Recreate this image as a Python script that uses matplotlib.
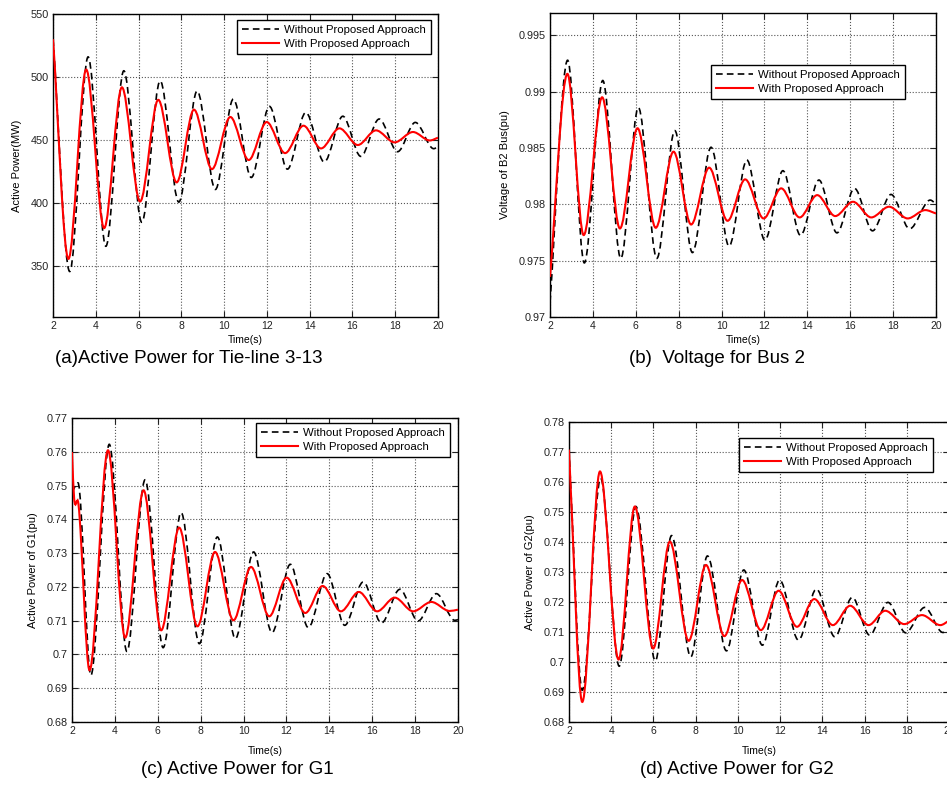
import matplotlib
matplotlib.use("Agg")
import matplotlib.pyplot as plt
from matplotlib.path import Path
from matplotlib.patches import PathPatch
from matplotlib.lines import Line2D
from matplotlib import font_manager

# ---------------- data (extrema) ----------------
# (a) Active power tie-line 3-13 (MW)
a_t_wo = [2.0, 2.78, 3.64, 4.47, 5.31, 6.15, 7.01, 7.88, 8.74, 9.59, 10.43, 11.27, 12.12, 12.96,
          13.82, 14.68, 15.55, 16.39, 17.25, 18.11, 18.94, 19.80, 20.0]
a_v_wo = [530, 346, 516, 366, 505, 385, 497, 401, 489, 411, 482.6, 420.5, 476.8, 427.1,
          472, 432.7, 469, 437.2, 466.8, 440.9, 464.1, 443.3, 445]
a_t_w = [2.0, 2.72, 3.55, 4.39, 5.22, 6.07, 6.92, 7.78, 8.59, 9.43, 10.29, 11.15, 11.99, 12.85,
         13.71, 14.53, 15.39, 16.25, 17.10, 17.97, 18.83, 19.62, 20.0]
a_v_w = [530, 356, 506, 380.4, 491.9, 401.5, 482, 416.6, 474.2, 427.1, 468.4, 434.3, 464.4, 439.8,
         461.5, 443.5, 459.4, 446.2, 457.8, 448.3, 456.5, 449.8, 452]

# (b) Voltage of bus B2 (pu)
b_t_wo = [2.0, 2.82, 3.60, 4.46, 5.30, 6.12, 6.98, 7.82, 8.64, 9.51, 10.35, 11.18, 12.02, 12.86,
          13.68, 14.54, 15.38, 16.20, 17.04, 17.90, 18.77, 19.73, 20.0]
b_v_wo = [0.9713, 0.9928, 0.9748, 0.9910, 0.9752, 0.9886, 0.9752, 0.98655, 0.97572, 0.98507,
          0.97629, 0.98394, 0.97682, 0.98299, 0.97724, 0.98216, 0.97747, 0.98142, 0.97765,
          0.98088, 0.97783, 0.98038, 0.98002]
b_t_w = [2.0, 2.81, 3.57, 4.43, 5.26, 6.08, 6.93, 7.76, 8.58, 9.42, 10.28, 11.10, 11.96, 12.78,
         13.64, 14.46, 15.30, 16.13, 16.98, 17.81, 18.68, 19.50, 20.0]
b_v_w = [0.97356, 0.99159, 0.97727, 0.98951, 0.97786, 0.98676, 0.97792, 0.98468, 0.97821,
         0.98326, 0.97854, 0.98222, 0.97875, 0.98142, 0.97884, 0.98082, 0.97896, 0.98023,
         0.97884, 0.97979, 0.97875, 0.97949, 0.97919]

# (c) Active power of G1 (pu)
c_t_wo = [2.0, 2.28, 2.88, 3.74, 4.56, 5.41, 6.25, 7.09, 7.94, 8.78, 9.62, 10.47, 11.33, 12.18,
          13.02, 13.90, 14.72, 15.58, 16.43, 17.29, 18.14, 18.99, 19.85, 20.0]
c_v_wo = [0.7480, 0.7508, 0.6938, 0.7622, 0.7009, 0.7517, 0.7020, 0.74197, 0.70319, 0.73477,
          0.70467, 0.73033, 0.70645, 0.72668, 0.70793, 0.72391, 0.70862, 0.72145, 0.70931,
          0.71928, 0.70990, 0.71799, 0.71010, 0.71030]
c_t_w = [2.0, 2.1, 2.3, 2.82, 3.68, 4.48, 5.34, 6.16, 7.00, 7.85, 8.67, 9.53, 10.35, 11.20,
         12.01, 12.88, 13.69, 14.54, 15.38, 16.23, 17.05, 17.91, 18.76, 19.61, 20.0]
c_v_w = [0.7599, 0.7462, 0.7446, 0.69529, 0.76043, 0.70496, 0.74858, 0.70714, 0.73753, 0.70832,
         0.73033, 0.71010, 0.72589, 0.71128, 0.72273, 0.71227, 0.72026, 0.71276, 0.71849,
         0.71276, 0.71681, 0.71276, 0.71553, 0.71286, 0.71325]

# (d) Active power of G2 (pu)
d_t_wo = [2.0, 2.63, 3.50, 4.38, 5.17, 6.09, 6.86, 7.77, 8.56, 9.46, 10.28, 11.16, 11.98, 12.87,
          13.72, 14.59, 15.42, 16.24, 17.11, 17.95, 18.85, 19.71, 20.0]
d_v_wo = [0.7708, 0.69058, 0.76129, 0.6986, 0.75183, 0.70038, 0.74214, 0.70172, 0.73535,
          0.70372, 0.73067, 0.70561, 0.72733, 0.70728, 0.72432, 0.70840, 0.72154, 0.70896,
          0.71987, 0.70973, 0.71820, 0.70984, 0.71040]
d_t_w = [2.0, 2.63, 3.47, 4.35, 5.12, 5.99, 6.78, 7.67, 8.49, 9.36, 10.20, 11.09, 11.93, 12.80,
         13.62, 14.50, 15.32, 16.19, 16.98, 17.88, 18.72, 19.59, 20.0]
d_v_w = [0.7708, 0.68668, 0.76352, 0.70082, 0.75183, 0.70450, 0.74013, 0.70706, 0.73234,
         0.70862, 0.72733, 0.71062, 0.72376, 0.71174, 0.72098, 0.71229, 0.71875, 0.71229,
         0.71708, 0.71263, 0.71563, 0.71229, 0.71374]

ylabels = ["Active Power(MW)", "Voltage of B2 Bus(pu)", "Active Power of G1(pu)", "Active Power of G2(pu)"]
captions = ["(a)Active Power for Tie-line 3-13", "(b)  Voltage for Bus 2",
            "(c) Active Power for G1", "(d) Active Power for G2"]
legend_labels = ["Without Proposed Approach", "With Proposed Approach"]
xticks = [2, 4, 6, 8, 10, 12, 14, 16, 18, 20]
yticks = [[350, 400, 450, 500, 550],
          [0.97, 0.975, 0.98, 0.985, 0.99, 0.995],
          [0.68, 0.69, 0.70, 0.71, 0.72, 0.73, 0.74, 0.75, 0.76, 0.77],
          [0.68, 0.69, 0.70, 0.71, 0.72, 0.73, 0.74, 0.75, 0.76, 0.77, 0.78]]
ytick_labels = [["350", "400", "450", "500", "550"],
                ["0.97", "0.975", "0.98", "0.985", "0.99", "0.995"],
                ["0.68", "0.69", "0.7", "0.71", "0.72", "0.73", "0.74", "0.75", "0.76", "0.77"],
                ["0.68", "0.69", "0.7", "0.71", "0.72", "0.73", "0.74", "0.75", "0.76", "0.77", "0.78"]]
ylims = [(310, 550), (0.97, 0.997), (0.68, 0.77), (0.68, 0.78)]

# ---------------- style ----------------
names = {f.name for f in font_manager.fontManager.ttflist}
base_font = "Liberation Sans" if "Liberation Sans" in names else "DejaVu Sans"
plt.rcParams["font.family"] = [base_font, "DejaVu Sans"]


def smooth_path(t, v):
    """Cubic Bezier path through the read points (zero slope at extrema)."""
    n = len(t)
    slopes = []
    for i in range(n):
        if i == 0:
            slopes.append((v[1] - v[0]) / (t[1] - t[0]))
        elif i == n - 1:
            slopes.append((v[-1] - v[-2]) / (t[-1] - t[-2]))
        else:
            d0 = v[i] - v[i - 1]
            d1 = v[i + 1] - v[i]
            if d0 * d1 <= 0:
                slopes.append(0.0)
            else:
                slopes.append(0.5 * (d0 / (t[i] - t[i - 1]) + d1 / (t[i + 1] - t[i])))
    verts = [(t[0], v[0])]
    codes = [Path.MOVETO]
    for i in range(n - 1):
        h = (t[i + 1] - t[i]) / 3.0
        verts += [(t[i] + h, v[i] + h * slopes[i]),
                  (t[i + 1] - h, v[i + 1] - h * slopes[i + 1]),
                  (t[i + 1], v[i + 1])]
        codes += [Path.CURVE4] * 3
    return Path(verts, codes)


fig = plt.figure(figsize=(9.47, 7.94), dpi=100)

axes_rects = [(0.0560, 0.6008, 0.4065, 0.3816),
              (0.5808, 0.6008, 0.4076, 0.3829),
              (0.0760, 0.0907, 0.4076, 0.3829),
              (0.6008, 0.0907, 0.4013, 0.3778)]
legend_anchor = [(0.2503, 0.9748), (0.7508, 0.9181), (0.2703, 0.4673), (0.7804, 0.4484)]
caption_pos = [(0.199, 0.549), (0.757, 0.549), (0.251, 0.031), (0.778, 0.031)]
xlabel_y = [-0.06, -0.06, -0.078, -0.08]
ylabel_x = [-0.08, -0.104, -0.088, -0.089]

series = [((a_t_wo, a_v_wo), (a_t_w, a_v_w)),
          ((b_t_wo, b_v_wo), (b_t_w, b_v_w)),
          ((c_t_wo, c_v_wo), (c_t_w, c_v_w)),
          ((d_t_wo, d_v_wo), (d_t_w, d_v_w))]

for k in range(4):
    ax = fig.add_axes(axes_rects[k])
    (tw, vw), (tr, vr) = series[k]
    ax.add_patch(PathPatch(smooth_path(tw, vw), fill=False, edgecolor="black",
                           linestyle=(0, (4.0, 2.5)), linewidth=1.2, zorder=3))
    ax.add_patch(PathPatch(smooth_path(tr, vr), fill=False, edgecolor="#ff0000",
                           linewidth=1.5, zorder=4))
    ax.set_xlim(2, 20)
    ax.set_ylim(*ylims[k])
    ax.set_xticks(xticks)
    ax.set_xticklabels([str(x) for x in xticks], fontsize=7.5)
    ax.set_yticks(yticks[k])
    ax.set_yticklabels(ytick_labels[k], fontsize=7.8)
    ax.tick_params(direction="in", length=4, width=0.8, top=True, right=True, pad=3,
                   colors="#222222")
    ax.grid(True, linestyle=":", color="#555555", linewidth=0.8)
    ax.set_axisbelow(True)
    for s in ax.spines.values():
        s.set_linewidth(1.0)
        s.set_color("black")
    ax.set_xlabel("Time(s)", fontsize=7.5)
    ax.xaxis.set_label_coords(0.5, xlabel_y[k])
    ax.set_ylabel(ylabels[k], fontsize=8)
    ax.yaxis.set_label_coords(ylabel_x[k], 0.5)
    handles = [Line2D([], [], color="black", linestyle=(0, (4.0, 2.5)), linewidth=1.2),
               Line2D([], [], color="#ff0000", linewidth=1.5)]
    leg = ax.legend(handles, legend_labels, loc="upper left",
                    bbox_to_anchor=legend_anchor[k], bbox_transform=fig.transFigure,
                    fontsize=8.2, frameon=True, fancybox=False, borderaxespad=0,
                    handlelength=3.2, handletextpad=0.5, borderpad=0.45,
                    labelspacing=0.35, framealpha=1)
    leg.get_frame().set_edgecolor("black")
    leg.get_frame().set_linewidth(1.0)
    fig.text(caption_pos[k][0], caption_pos[k][1], captions[k], ha="center", va="center",
             fontsize=13.5)

fig.savefig("out.png", dpi=100)
